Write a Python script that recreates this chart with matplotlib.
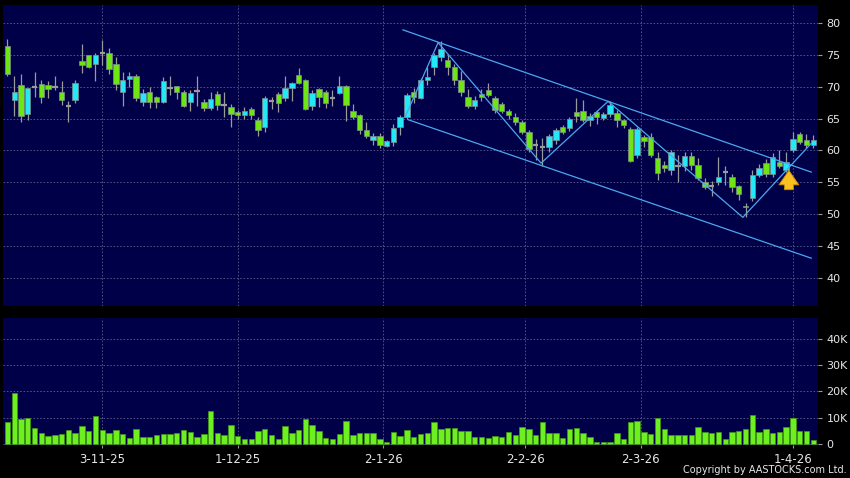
import matplotlib
matplotlib.use("Agg")
import matplotlib.pyplot as plt
import numpy as np
from matplotlib.ticker import FuncFormatter

# daily candles, index 0 = first trading day shown
opens = [76.3, 67.9, 70.2, 65.7, 69.9, 70.4, 70.3, 70.0, 69.1, 67.0,
         67.9, 74.0, 74.9, 73.5, 75.2, 75.2, 73.5, 69.1, 71.2, 71.7,
         67.6, 69.2, 68.3, 67.6, 69.8, 70.1, 69.1, 67.6, 69.3, 67.6,
         66.6, 68.8, 67.1, 66.8, 66.0, 65.6, 66.5, 64.7, 63.7, 67.7,
         68.8, 68.2, 69.8, 71.8, 71.0, 66.9, 69.6, 69.1, 68.2, 69.0,
         70.1, 66.1, 65.6, 63.2, 61.6, 62.2, 60.7, 61.3, 63.6, 65.3,
         69.1, 68.2, 71.1, 73.0, 74.7, 74.2, 73.1, 71.0, 68.3, 66.9,
         68.9, 69.5, 68.2, 67.3, 66.2, 65.3, 64.4, 62.9, 60.9, 60.6,
         60.6, 61.6, 63.6, 63.5, 66.0, 66.1, 64.8, 66.0, 65.1, 65.7,
         65.8, 64.8, 63.3, 59.3, 62.1, 62.1, 58.8, 57.7, 56.9, 57.6,
         57.5, 59.1, 57.7, 55.1, 54.4, 55.0, 56.6, 55.9, 54.4, 51.3,
         52.6, 56.2, 58.0, 56.3, 58.2, 56.9, 60.1, 62.5, 61.6, 60.9]
highs = [77.5, 71.7, 72.0, 69.8, 72.3, 71.0, 70.9, 71.6, 70.9, 67.7,
         71.0, 76.7, 75.0, 75.2, 77.3, 76.1, 74.7, 72.3, 72.3, 72.0,
         69.6, 69.9, 68.6, 71.5, 71.6, 70.1, 69.5, 69.5, 71.6, 68.0,
         69.2, 69.3, 69.1, 67.3, 66.4, 66.8, 66.8, 65.3, 68.6, 68.3,
         69.1, 71.6, 70.8, 72.9, 71.2, 69.5, 69.8, 69.4, 69.5, 71.7,
         70.2, 67.2, 65.7, 64.4, 62.7, 62.7, 61.7, 64.1, 65.6, 69.0,
         69.8, 71.4, 73.0, 75.2, 77.1, 75.0, 73.6, 72.4, 69.7, 68.5,
         69.6, 70.5, 68.6, 67.6, 66.5, 65.8, 64.8, 63.2, 61.8, 62.0,
         62.6, 63.5, 64.0, 65.3, 68.2, 67.9, 65.8, 66.4, 66.0, 67.7,
         66.3, 65.0, 63.6, 63.6, 62.4, 62.7, 59.8, 58.3, 60.0, 59.3,
         59.8, 59.8, 58.8, 55.6, 55.2, 59.0, 57.5, 56.3, 54.6, 51.8,
         57.0, 57.8, 58.6, 59.6, 60.0, 59.8, 62.9, 62.9, 62.5, 62.4]
lows = [71.6, 65.4, 64.4, 64.8, 68.3, 67.4, 68.2, 69.5, 67.1, 64.4,
        67.4, 72.1, 72.9, 70.9, 73.4, 72.0, 69.5, 67.0, 70.0, 67.7,
        67.0, 66.7, 66.6, 67.4, 68.7, 68.0, 66.8, 66.1, 66.9, 66.1,
        66.3, 66.3, 65.3, 63.7, 64.9, 64.9, 64.9, 62.3, 62.9, 66.5,
        66.0, 67.8, 67.8, 70.4, 66.4, 66.3, 66.8, 66.7, 66.9, 68.9,
        64.6, 64.9, 62.6, 61.9, 60.8, 60.4, 60.5, 60.7, 62.4, 64.9,
        67.5, 68.0, 70.2, 71.9, 74.0, 71.9, 70.3, 68.6, 66.6, 66.5,
        67.8, 68.3, 65.9, 65.9, 65.0, 64.0, 62.5, 59.8, 58.5, 57.6,
        59.8, 61.0, 62.5, 63.0, 64.5, 64.5, 63.9, 64.2, 64.7, 65.3,
        63.7, 63.5, 58.2, 58.8, 60.5, 59.0, 55.4, 56.6, 56.2, 55.0,
        56.8, 57.0, 55.3, 54.0, 52.9, 54.5, 54.5, 53.5, 52.2, 49.6,
        52.0, 55.8, 55.8, 55.9, 57.3, 56.6, 59.8, 61.0, 60.3, 60.3]
closes = [72.0, 69.1, 65.4, 69.8, 69.9, 68.3, 69.6, 70.0, 67.9, 67.0,
          70.5, 73.4, 73.1, 75.0, 75.2, 72.8, 70.4, 71.1, 71.7, 68.2,
          69.0, 67.6, 67.6, 70.9, 69.8, 69.1, 67.0, 69.0, 69.3, 66.6,
          68.0, 67.1, 67.1, 65.7, 65.6, 66.2, 65.5, 63.2, 68.2, 67.7,
          67.4, 69.8, 70.5, 70.6, 66.5, 69.0, 68.3, 67.4, 68.2, 70.1,
          67.1, 65.2, 63.2, 62.3, 62.2, 60.8, 61.5, 63.5, 65.3, 68.7,
          68.3, 71.1, 71.5, 74.9, 75.9, 73.1, 71.1, 69.2, 66.9, 67.9,
          68.3, 68.7, 66.4, 66.2, 65.5, 64.5, 62.9, 60.2, 60.9, 60.6,
          62.2, 63.2, 62.9, 65.0, 65.4, 64.8, 65.4, 65.2, 65.7, 67.1,
          64.8, 64.0, 58.4, 63.3, 61.4, 59.3, 56.4, 57.3, 59.7, 57.6,
          59.1, 57.7, 55.6, 54.3, 54.4, 55.9, 56.6, 54.3, 53.1, 51.1,
          56.2, 57.2, 56.3, 59.0, 57.5, 58.2, 61.8, 61.3, 60.9, 61.6]
volume_k = [8.1, 19.5, 9.6, 10.0, 6.0, 4.1, 2.8, 3.2, 3.8, 5.1,
            4.1, 6.7, 4.7, 10.6, 5.1, 4.2, 5.4, 3.6, 2.3, 5.5,
            2.6, 2.6, 3.2, 3.8, 3.8, 4.1, 5.1, 4.5, 2.6, 3.6,
            12.6, 4.1, 3.2, 7.1, 2.8, 1.9, 1.7, 4.9, 5.5, 3.2,
            1.9, 6.8, 4.2, 5.1, 9.6, 7.1, 4.7, 2.3, 1.9, 3.8,
            8.7, 3.2, 4.1, 4.1, 4.1, 1.9, 0.6, 4.5, 2.9, 5.1,
            2.6, 3.8, 4.0, 8.4, 5.6, 6.0, 6.0, 4.9, 4.7, 2.6,
            2.6, 2.3, 3.0, 2.6, 4.5, 3.2, 6.2, 5.6, 3.2, 8.4,
            4.0, 4.0, 2.3, 5.6, 6.0, 3.9, 2.7, 0.6, 0.8, 0.8,
            3.9, 1.7, 8.2, 8.8, 4.3, 3.6, 9.7, 5.6, 3.2, 3.4,
            3.2, 3.4, 6.5, 4.3, 4.0, 4.3, 1.9, 4.3, 4.7, 5.6,
            10.8, 4.3, 5.6, 3.9, 4.3, 6.5, 9.9, 4.9, 4.9, 1.3]

date_labels = ["3-11-25", "1-12-25", "2-1-26", "2-2-26", "2-3-26", "1-4-26"]
date_pos = [14, 34, 55.5, 76.5, 93.5, 116]

# drawn trend channel and zigzag (index, price)
upper_x, upper_y = [58.4, 118.7], [78.9, 56.6]
lower_x, lower_y = [59.2, 118.7], [64.8, 43.1]
zig_x = [58.7, 63.6, 78.8, 88.7, 108.6, 118.7]
zig_y = [65.2, 76.9, 58.0, 67.7, 49.5, 61.1]
arrow_x, arrow_lo, arrow_hi = 115.4, 53.4, 57.3

NAVY = "#000048"
UP = "#22e8f8"
DOWN = "#6ee614"
WICK = "#9a9a9a"
GRID = "#5a5a8e"
TXT = "#e6e6e6"

fig = plt.figure(figsize=(8.5, 4.78), dpi=100, facecolor="black")
ax = fig.add_axes([3 / 850, 1 - 306 / 478, 815 / 850, 301 / 478])
axv = fig.add_axes([3 / 850, 1 - 445 / 478, 815 / 850, 127 / 478])

n = len(closes)
idx = np.arange(n)
o = np.array(opens)
c = np.array(closes)
bw = 0.8

ax.vlines(idx, lows, highs, color=WICK, lw=0.9, zorder=2)
for i in range(n):
    if abs(c[i] - o[i]) < 0.05:
        ax.hlines(o[i], i - bw / 2, i + bw / 2, color=WICK, lw=1.6, zorder=3)
    else:
        col = UP if c[i] > o[i] else DOWN
        ax.bar(i, abs(c[i] - o[i]), bw, bottom=min(o[i], c[i]),
               color=col, edgecolor="#7f8f8f", linewidth=0.5, zorder=3)

line_kw = dict(color="#4aa8ee", lw=0.9, zorder=4)
ax.plot(upper_x, upper_y, **line_kw)
ax.plot(lower_x, lower_y, **line_kw)
ax.plot(zig_x, zig_y, **line_kw)

ax.annotate("", xy=(arrow_x, arrow_hi), xytext=(arrow_x, arrow_lo),
            arrowprops=dict(arrowstyle="simple,head_width=1.1,head_length=0.8,tail_width=0.5",
                            fc="#f8c020", ec="#c88a00", lw=0.6, mutation_scale=13),
            zorder=5)

axv.bar(idx, np.array(volume_k) * 1000, 0.8, color="#6ef020",
        edgecolor="#3f9a10", linewidth=0.5, zorder=3)

for a in (ax, axv):
    a.set_facecolor(NAVY)
    a.set_xlim(-0.66, 119.7)
    a.set_xticks(date_pos)
    a.grid(True, color=GRID, lw=0.6, ls=(0, (2, 2)), zorder=0)
    a.set_axisbelow(True)
    for s in a.spines.values():
        s.set_visible(False)
    a.yaxis.tick_right()
    a.tick_params(axis="y", colors=WICK, labelcolor=TXT, length=3, width=0.8,
                  labelsize=8, pad=3)
    a.tick_params(axis="x", colors=WICK, labelcolor=TXT, length=2, width=0.8,
                  labelsize=8.5, pad=4)

ax.set_ylim(35.6, 82.8)
ax.set_yticks([40, 45, 50, 55, 60, 65, 70, 75, 80])
ax.set_xticklabels([])
ax.tick_params(axis="x", length=0)

axv.set_ylim(-500, 48000)
axv.set_yticks([0, 10000, 20000, 30000, 40000])
axv.yaxis.set_major_formatter(FuncFormatter(lambda v, p: "0" if v == 0 else f"{int(v / 1000)}K"))
axv.set_xticklabels(date_labels)

fig.text(847 / 850, 1 - 470 / 478, "Copyright by AASTOCKS.com Ltd.", color=TXT,
         fontsize=7, ha="right", va="center")

fig.savefig("out.png", dpi=100, facecolor="black")
